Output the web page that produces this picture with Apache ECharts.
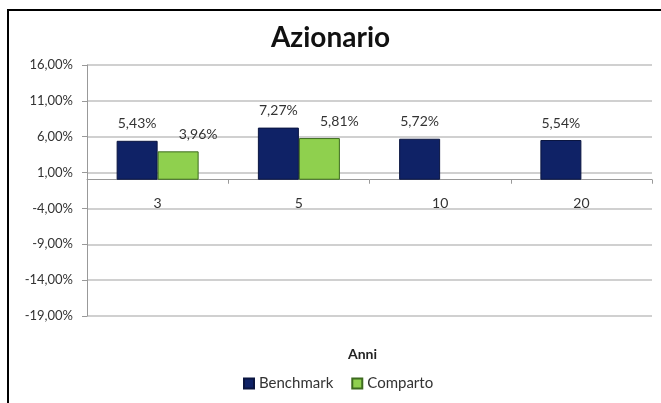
<!DOCTYPE html>
<html>
<head>
<meta charset="utf-8">
<script src="https://cdn.jsdelivr.net/npm/echarts@6/dist/echarts.min.js"></script>
<style>
  html, body { margin: 0; padding: 0; background: #fff; }
  #chart { width: 661px; height: 403px; }
</style>
</head>
<body>
<div id="chart"></div>
<script>
const categories = ["3", "5", "10", "20"];
const benchmark = [5.43, 7.27, 5.72, 5.54];
const comparto = [3.96, 5.81, null, null];

let chartDom = document.getElementById("chart");
let myChart = echarts.init(chartDom);

const fmt = (v) => v.toFixed(2).replace(".", ",") + "%";

let option = {
  animation: false,
  textStyle: { fontFamily: "Lato" },
  title: {
    text: "Azionario",
    left: "center",
    top: 19,
    textStyle: { fontSize: 28, fontWeight: "bold", color: "#111", fontFamily: "Lato" },
  },
  graphic: [
    {
      type: "rect",
      shape: { x: 8, y: 10, width: 660, height: 400 },
      style: { fill: "none", stroke: "#000", lineWidth: 2 },
    },
  ],
  legend: {
    top: 371,
    left: 238,
    itemWidth: 10,
    itemHeight: 10,
    itemGap: 18,
    icon: "rect",
    textStyle: { fontSize: 15, color: "#333" },
    data: ["Benchmark", "Comparto"],
  },
  grid: { left: 87, right: 9, top: 65, bottom: 87, outerBoundsMode: "none", containLabel: false },
  xAxis: {
    type: "category",
    data: categories,
    name: "Anni",
    nameLocation: "middle",
    nameGap: 31,
    nameTextStyle: { fontWeight: "bold", fontSize: 14, color: "#222", padding: [0, 14, 0, 0] },
    axisLine: { onZero: true, lineStyle: { color: "#999" } },
    axisTick: { show: true, length: 4, lineStyle: { color: "#999" } },
    axisLabel: { margin: -120, fontSize: 14, color: "#333" },
  },
  yAxis: {
    type: "value",
    min: -19,
    max: 16,
    interval: 5,
    axisLine: { show: true, lineStyle: { color: "#999" } },
    axisTick: { show: true, length: 5, lineStyle: { color: "#999" } },
    axisLabel: { fontSize: 13, color: "#333", margin: 14, formatter: (v) => fmt(v) },
    splitLine: { lineStyle: { color: "#c0c0c0", width: 1.5 } },
  },
  series: [
    {
      name: "Benchmark",
      type: "bar",
      data: benchmark,
      barWidth: 41,
      barGap: "0%",
      itemStyle: { color: "#0f2266", borderColor: "#0a1540", borderWidth: 1 },
      label: { show: true, position: "top", distance: 10, fontSize: 14, color: "#333", formatter: (p) => fmt(p.value) },
    },
    {
      name: "Comparto",
      type: "bar",
      data: comparto,
      barWidth: 41,
      itemStyle: { color: "#8fd04e", borderColor: "#3d6b1e", borderWidth: 1 },
      label: { show: true, position: "top", distance: 10, offset: [20, 0], fontSize: 14, color: "#333", formatter: (p) => fmt(p.value) },
    },
  ],
};

myChart.setOption(option);
</script>
</body>
</html>
